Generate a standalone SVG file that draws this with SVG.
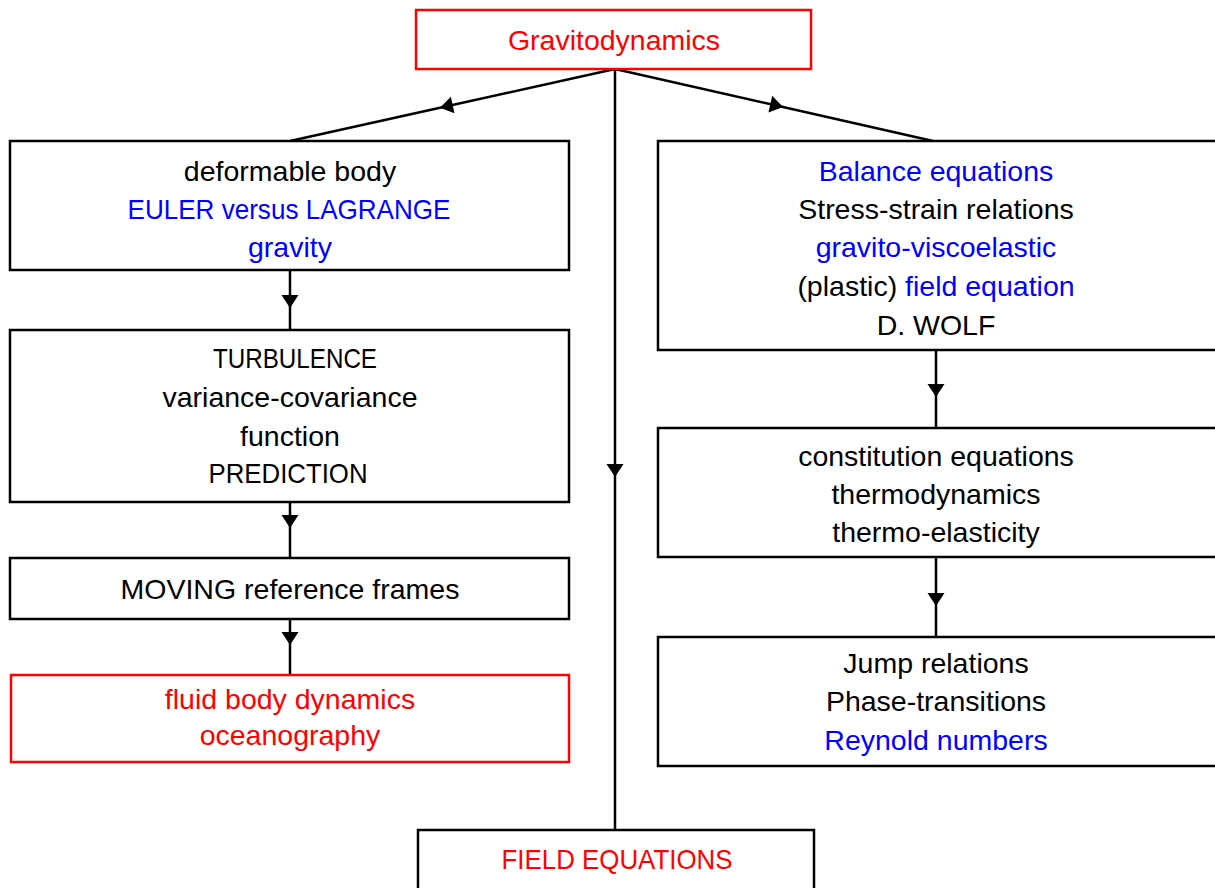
<svg xmlns="http://www.w3.org/2000/svg" width="1215" height="888" viewBox="0 0 1215 888">
<style>
.box{fill:#fff;stroke:#000;stroke-width:2.5}
.rbox{fill:#fff;stroke:#ff0000;stroke-width:2.5}
text{font-family:"Liberation Sans",Arial,sans-serif;font-size:28.5px;text-anchor:middle;fill:#000}
.r{fill:#ff0000}
.b{fill:#0000ff}
.c{fill:none;stroke:#000;stroke-width:2.5}
</style>
<defs>
<marker id="ah" viewBox="-1 -10 15 20" refX="13" refY="0" markerWidth="15" markerHeight="20" markerUnits="userSpaceOnUse" orient="auto">
<path d="M0,-8.5 L13,0 L0,8.5 z" fill="#000"/>
</marker>
</defs>
<g id="connectors">
<path class="c" d="M615,69 L440,107.8 L290,141" marker-mid="url(#ah)"/>
<path class="c" d="M615,69 L783,107 L933,141" marker-mid="url(#ah)"/>
<path class="c" d="M615,69 L615,477 L615,830" marker-mid="url(#ah)"/>
<path class="c" d="M290,270 L290,308 L290,330" marker-mid="url(#ah)"/>
<path class="c" d="M290,502 L290,528 L290,558" marker-mid="url(#ah)"/>
<path class="c" d="M290,619 L290,645 L290,675" marker-mid="url(#ah)"/>
<path class="c" d="M936,350 L936,397 L936,428" marker-mid="url(#ah)"/>
<path class="c" d="M936,557 L936,606 L936,637" marker-mid="url(#ah)"/>
</g>
<g id="gravitodynamics">
<rect class="rbox" x="416" y="10" width="395" height="59"/>
<text x="614" y="50" class="r">Gravitodynamics</text>
</g>
<g id="deformable">
<rect class="box" x="10" y="141" width="559" height="129"/>
<text x="290" y="181">deformable body</text>
<text x="289" y="219" class="b" textLength="323" lengthAdjust="spacingAndGlyphs">EULER versus LAGRANGE</text>
<text x="290" y="257" class="b">gravity</text>
</g>
<g id="turbulence">
<rect class="box" x="10" y="330" width="559" height="172"/>
<text x="295" y="368" textLength="164" lengthAdjust="spacingAndGlyphs">TURBULENCE</text>
<text x="290" y="407">variance-covariance</text>
<text x="290" y="446">function</text>
<text x="288" y="483" textLength="159" lengthAdjust="spacingAndGlyphs">PREDICTION</text>
</g>
<g id="moving">
<rect class="box" x="10" y="558" width="559" height="61"/>
<text x="290" y="599">MOVING reference frames</text>
</g>
<g id="fluid">
<rect class="rbox" x="11" y="675" width="558" height="87"/>
<text x="290" y="709" class="r">fluid body dynamics</text>
<text x="290" y="745" class="r">oceanography</text>
</g>
<g id="balance">
<rect class="box" x="658" y="141" width="560" height="209"/>
<text x="936" y="181" class="b">Balance equations</text>
<text x="936" y="219">Stress-strain relations</text>
<text x="936" y="257" class="b">gravito-viscoelastic</text>
<text x="936" y="296">(plastic) <tspan class="b">field equation</tspan></text>
<text x="936" y="335">D. WOLF</text>
</g>
<g id="constitution">
<rect class="box" x="658" y="428" width="560" height="129"/>
<text x="936" y="466">constitution equations</text>
<text x="936" y="504">thermodynamics</text>
<text x="936" y="542">thermo-elasticity</text>
</g>
<g id="jump">
<rect class="box" x="658" y="637" width="560" height="129"/>
<text x="936" y="673">Jump relations</text>
<text x="936" y="711">Phase-transitions</text>
<text x="936" y="750" class="b">Reynold numbers</text>
</g>
<g id="field">
<rect class="box" x="418" y="830" width="396" height="70"/>
<text x="617" y="869" class="r" textLength="231" lengthAdjust="spacingAndGlyphs">FIELD EQUATIONS</text>
</g>
</svg>
